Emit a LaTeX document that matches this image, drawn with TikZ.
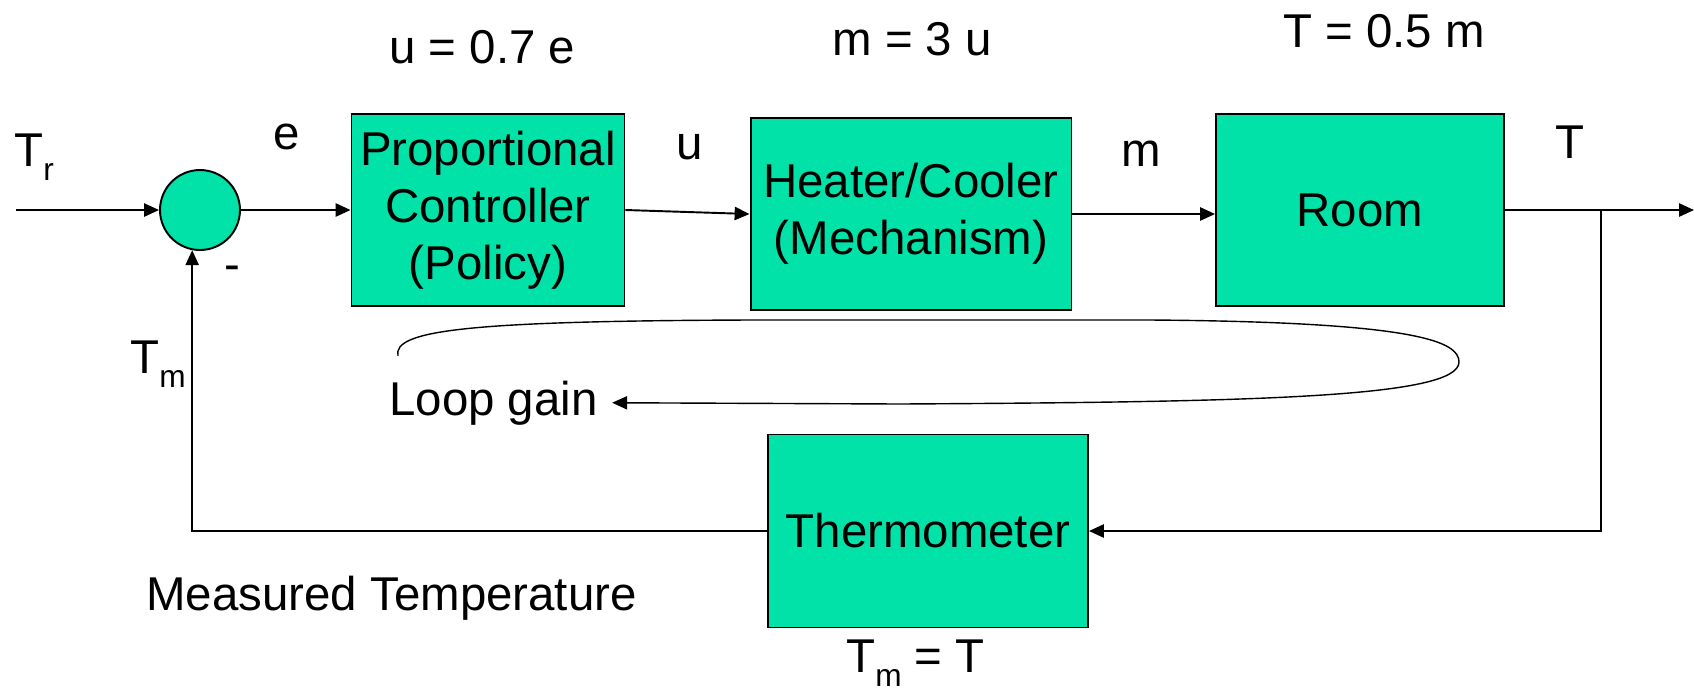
\documentclass[tikz,border=0pt]{standalone}
\usepackage{fontspec}
\setmainfont{Liberation Sans}
\usepackage{tikz}
\usetikzlibrary{arrows.meta,
    positioning}
\definecolor{boxgreen}{RGB}{0,226,168}
\newcommand{\lowsub}[1]{\raisebox{-0.3em}{\fontsize{18}{18}\selectfont #1}}
\tikzset{
    block/.style={draw,fill=boxgreen,line width=1.1pt,align=center,inner sep=0pt},
    lbl/.style={inner sep=0pt,anchor=base west},
    sig/.style={line width=1.1pt,-{Triangle[length=8.5pt,width=7.5pt]}}
}

\begin{document}
\begin{tikzpicture}[x=0.02cm,y=-0.02cm,font=\fontsize{27}{32.5}\selectfont]
                  \useasboundingbox (0,0) rectangle (1694,691);
                  \node[circle,draw,fill=boxgreen,line width=1.1pt,minimum size=1.6cm,inner sep=0pt] (sum) at (200,210) {};
                  \node[block,minimum width=5.46cm,minimum height=3.84cm] (ctrl) at (488,210) {Proportional\\Controller\\(Policy)};
                  \node[block,minimum width=6.42cm,minimum height=3.84cm] (heat) at (911,214) {Heater/Cooler\\(Mechanism)};
                  \node[block,minimum width=5.76cm,minimum height=3.84cm] (room) at (1360,210) {Room};
                  \node[block,minimum width=6.4cm,minimum height=3.86cm] (thermo) at (928,531) {Thermometer};
                  \coordinate (in) at (16,210);
                  \coordinate (out) at (1694,210);
                  \coordinate (br) at (1601,210);
                  \coordinate (lgstart) at (398,356);
                  \draw[sig] (in) -- (sum.west);
                  \draw[sig] (sum.east) -- (ctrl.west);
                  \draw[sig] (ctrl.east) -- (heat.west);
                  \draw[sig] (heat.east) -- (heat.east -| room.west);
                  \draw[sig] (room.east) -- (out);
                  \draw[sig] (br) |- (thermo.east);
                  \draw[sig] (thermo.west) -| (sum.-101);
                  \node[lbl] at (389,63) {u = 0.7 e};
                  \node[lbl] at (832,55) {m = 3 u};
                  \node[lbl] at (1283,47) {T = 0.5 m};
                  \node[lbl] at (14,166) {T\lowsub{r}};
                  \node[lbl] at (273,149) {e};
                  \node[lbl] at (676,159) {u};
                  \node[lbl] at (1121,166) {m};
                  \node[lbl] at (1555,158) {T};
                  \node at (232,273) {-};
                  \node[lbl] at (130,373) {T\lowsub{m}};
                  \node[lbl] (lg) at (389,415) {Loop gain};
                  \node[lbl] at (146,610) {Measured Temperature};
                  \node[lbl] at (846,672) {T\lowsub{m} = T};
                  \draw[line width=0.8pt,-{Triangle[length=8.5pt,width=7.5pt]}] (lgstart) .. controls (392,330) and (470,321) .. (750,320) -- (1150,320) .. controls (1420,322) and (1459,342) .. (1459,362) .. controls (1459,398) and (1250,402) .. (900,404) -- ([xshift=8pt]lg.east);
              \end{tikzpicture}
\end{document}
